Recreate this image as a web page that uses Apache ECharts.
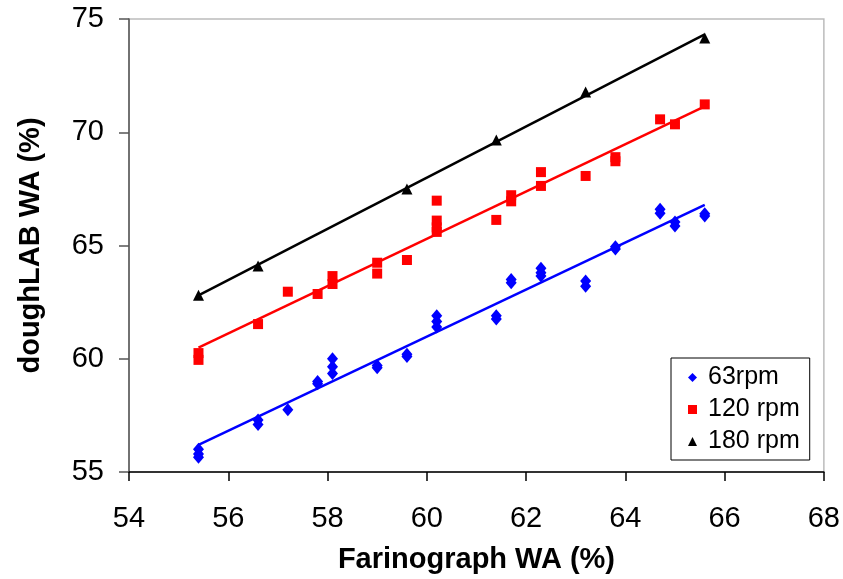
<!DOCTYPE html>
<html>
<head>
<meta charset="utf-8">
<script src="https://cdn.jsdelivr.net/npm/echarts@6/dist/echarts.min.js"></script>
<style>
  html, body { margin: 0; padding: 0; background: #fff; }
  #chart { width: 843px; height: 579px; }
</style>
</head>
<body>
<div id="chart"></div>
<script>
// Farinograph water absorption (x) vs doughLAB water absorption (y), per mixing speed
const xTicks = [54, 56, 58, 60, 62, 64, 66, 68];
const yTicks = [55, 60, 65, 70, 75];

const seriesNames = ['63rpm', '120 rpm', '180 rpm'];

const rpm63 = [
  [55.4, 56.0], [55.4, 55.8], [55.4, 55.65],
  [56.6, 57.3], [56.6, 57.1],
  [57.2, 57.75],
  [57.8, 59.0], [57.8, 58.9],
  [58.1, 60.0], [58.1, 59.65], [58.1, 59.35],
  [59.0, 59.7], [59.0, 59.6],
  [59.6, 60.2], [59.6, 60.1],
  [60.2, 61.9], [60.2, 61.65], [60.2, 61.4],
  [61.4, 61.9], [61.4, 61.75],
  [61.7, 63.5], [61.7, 63.35],
  [62.3, 64.0], [62.3, 63.8], [62.3, 63.65],
  [63.2, 63.43], [63.2, 63.2],
  [63.8, 64.95], [63.8, 64.85],
  [64.7, 66.6], [64.7, 66.42],
  [65.0, 66.04], [65.0, 65.86],
  [65.6, 66.4], [65.6, 66.3]
];

const rpm120 = [
  [55.4, 60.25], [55.4, 59.95],
  [56.6, 61.53],
  [57.2, 62.96],
  [57.8, 62.86],
  [58.1, 63.65], [58.1, 63.3],
  [59.0, 64.24], [59.0, 63.76],
  [59.6, 64.36],
  [60.2, 66.98], [60.2, 66.1], [60.2, 65.8], [60.2, 65.6],
  [61.4, 66.13],
  [61.7, 67.22], [61.7, 66.95],
  [62.3, 68.24], [62.3, 67.63],
  [63.2, 68.07],
  [63.8, 68.9], [63.8, 68.72],
  [64.7, 70.57],
  [65.0, 70.35],
  [65.6, 71.23]
];

const rpm180 = [
  [55.4, 62.8],
  [56.6, 64.1],
  [59.6, 67.5],
  [61.4, 69.66],
  [63.2, 71.78],
  [65.6, 74.16]
];

const colors = ['#0000ff', '#ff0000', '#000000'];
const symbols = ['diamond', 'rect', 'triangle'];
const symbolSizes = [[11, 13], 10, 11];
const groups = [rpm63, rpm120, rpm180];

// least-squares linear trend spanning the data's x range
function trend(points) {
  const n = points.length;
  let sx = 0, sy = 0, sxx = 0, sxy = 0;
  points.forEach(([x, y]) => { sx += x; sy += y; sxx += x * x; sxy += x * y; });
  const slope = (n * sxy - sx * sy) / (n * sxx - sx * sx);
  const icpt = (sy - slope * sx) / n;
  const xs = points.map(p => p[0]);
  const x0 = Math.min(...xs), x1 = Math.max(...xs);
  return [[x0, icpt + slope * x0], [x1, icpt + slope * x1]];
}

const font = 'Liberation Sans, Arial, sans-serif';

const series = [];
groups.forEach((g, i) => {
  series.push({
    name: seriesNames[i] + ' trend',
    type: 'line',
    data: trend(g),
    showSymbol: false,
    symbol: 'none',
    lineStyle: { color: colors[i], width: 2.5 },
    silent: true,
    z: 2
  });
});
groups.forEach((g, i) => {
  series.push({
    name: seriesNames[i],
    type: 'scatter',
    data: g,
    symbol: symbols[i],
    symbolSize: symbolSizes[i],
    itemStyle: { color: colors[i], opacity: 1 },
    z: 3
  });
});

const chart = echarts.init(document.getElementById('chart'), null, { renderer: 'canvas' });
chart.setOption({
  animation: false,
  backgroundColor: '#ffffff',
  grid: {
    left: 129, top: 19, right: 18, bottom: 107,
    show: true, borderColor: '#bcbcbc', borderWidth: 1.5, backgroundColor: 'transparent'
  },
  legend: {
    data: seriesNames.map((n, i) => ({ name: n, icon: symbols[i] })),
    orient: 'vertical',
    left: 671, top: 358,
    width: 138,
    padding: [7, 10, 6, 17],
    itemGap: 7,
    itemWidth: 9, itemHeight: 9,
    borderColor: '#000', borderWidth: 1,
    backgroundColor: '#fff',
    textStyle: { fontFamily: font, fontSize: 25, color: '#000', padding: [0, 0, 0, 6] }
  },
  xAxis: {
    type: 'value',
    min: 54, max: 68, interval: 2,
    name: 'Farinograph WA (%)',
    nameLocation: 'middle',
    nameGap: 73,
    nameTextStyle: { fontFamily: font, fontSize: 29, fontWeight: 'bold', color: '#000' },
    axisLine: { show: true, onZero: false, lineStyle: { color: '#000', width: 1.5 } },
    axisTick: { show: true, length: 9, lineStyle: { color: '#000', width: 1.5 } },
    axisLabel: {
      fontFamily: font, fontSize: 29, color: '#000', margin: 32,
      formatter: v => (xTicks.includes(v) ? String(v) : '')
    },
    splitLine: { show: false }
  },
  yAxis: {
    type: 'value',
    min: 55, max: 75, interval: 5,
    name: 'doughLAB WA (%)',
    nameLocation: 'middle',
    nameGap: 84,
    nameTextStyle: { fontFamily: font, fontSize: 29, fontWeight: 'bold', color: '#000' },
    axisLine: { show: true, onZero: false, lineStyle: { color: '#555', width: 1.5 } },
    axisTick: { show: true, length: 10, lineStyle: { color: '#555', width: 1.5 } },
    axisLabel: {
      fontFamily: font, fontSize: 29, color: '#000', margin: 25,
      formatter: v => (yTicks.includes(v) ? String(v) : '')
    },
    splitLine: { show: false }
  },
  series: series
});
</script>
</body>
</html>
